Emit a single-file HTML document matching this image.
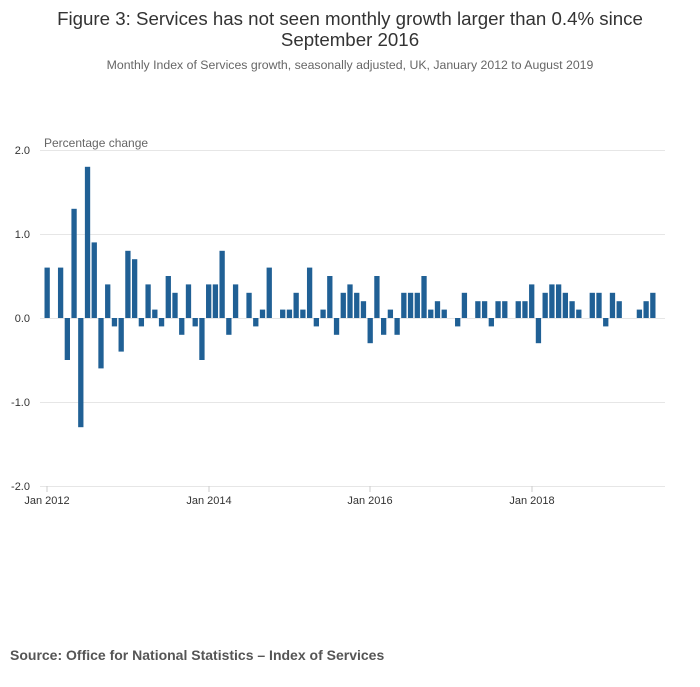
<!DOCTYPE html><html><head><meta charset="utf-8"><style>body{margin:0;background:#fff;font-family:"Liberation Sans",sans-serif}</style></head><body>
<svg width="700" height="682" xmlns="http://www.w3.org/2000/svg" font-family="Liberation Sans, sans-serif">
<text x="350" y="25" text-anchor="middle" font-size="18.7" fill="#333">Figure 3: Services has not seen monthly growth larger than 0.4% since</text>
<text x="350" y="46" text-anchor="middle" font-size="18.7" fill="#333">September 2016</text>
<text x="350" y="69" text-anchor="middle" font-size="12.3" fill="#666">Monthly Index of Services growth, seasonally adjusted, UK, January 2012 to August 2019</text>
<text x="44" y="147" font-size="12" fill="#666">Percentage change</text>
<g stroke="#e6e6e6" stroke-width="1">
<line x1="40" x2="665" y1="150.5" y2="150.5"/><line x1="40" x2="665" y1="234.5" y2="234.5"/><line x1="40" x2="665" y1="318.5" y2="318.5"/><line x1="40" x2="665" y1="402.5" y2="402.5"/><line x1="40" x2="665" y1="486.5" y2="486.5"/>
</g>
<g font-size="11" fill="#333" text-anchor="end">
<text x="30" y="154">2.0</text><text x="30" y="238">1.0</text><text x="30" y="322">0.0</text><text x="30" y="406">-1.0</text><text x="30" y="490">-2.0</text>
</g>
<g stroke="#ccc"><line x1="47" x2="47" y1="486" y2="492"/><line x1="209" x2="209" y1="486" y2="492"/><line x1="370" x2="370" y1="486" y2="492"/><line x1="532" x2="532" y1="486" y2="492"/></g>
<g font-size="11" fill="#333" text-anchor="middle">
<text x="47" y="504">Jan 2012</text><text x="209" y="504">Jan 2014</text><text x="370" y="504">Jan 2016</text><text x="532" y="504">Jan 2018</text>
</g>
<g fill="#206095">
<rect x="44.5" y="267.6" width="5.3" height="50.4"/>
<rect x="57.96" y="267.6" width="5.3" height="50.4"/>
<rect x="64.69" y="318" width="5.3" height="42"/>
<rect x="71.42" y="208.8" width="5.3" height="109.2"/>
<rect x="78.15" y="318" width="5.3" height="109.2"/>
<rect x="84.88" y="166.8" width="5.3" height="151.2"/>
<rect x="91.61" y="242.4" width="5.3" height="75.6"/>
<rect x="98.34" y="318" width="5.3" height="50.4"/>
<rect x="105.07" y="284.4" width="5.3" height="33.6"/>
<rect x="111.8" y="318" width="5.3" height="8.4"/>
<rect x="118.53" y="318" width="5.3" height="33.6"/>
<rect x="125.26" y="250.8" width="5.3" height="67.2"/>
<rect x="131.99" y="259.2" width="5.3" height="58.8"/>
<rect x="138.72" y="318" width="5.3" height="8.4"/>
<rect x="145.45" y="284.4" width="5.3" height="33.6"/>
<rect x="152.18" y="309.6" width="5.3" height="8.4"/>
<rect x="158.91" y="318" width="5.3" height="8.4"/>
<rect x="165.64" y="276" width="5.3" height="42"/>
<rect x="172.37" y="292.8" width="5.3" height="25.2"/>
<rect x="179.1" y="318" width="5.3" height="16.8"/>
<rect x="185.83" y="284.4" width="5.3" height="33.6"/>
<rect x="192.56" y="318" width="5.3" height="8.4"/>
<rect x="199.29" y="318" width="5.3" height="42"/>
<rect x="206.02" y="284.4" width="5.3" height="33.6"/>
<rect x="212.75" y="284.4" width="5.3" height="33.6"/>
<rect x="219.48" y="250.8" width="5.3" height="67.2"/>
<rect x="226.21" y="318" width="5.3" height="16.8"/>
<rect x="232.94" y="284.4" width="5.3" height="33.6"/>
<rect x="246.4" y="292.8" width="5.3" height="25.2"/>
<rect x="253.13" y="318" width="5.3" height="8.4"/>
<rect x="259.86" y="309.6" width="5.3" height="8.4"/>
<rect x="266.59" y="267.6" width="5.3" height="50.4"/>
<rect x="280.05" y="309.6" width="5.3" height="8.4"/>
<rect x="286.78" y="309.6" width="5.3" height="8.4"/>
<rect x="293.51" y="292.8" width="5.3" height="25.2"/>
<rect x="300.24" y="309.6" width="5.3" height="8.4"/>
<rect x="306.97" y="267.6" width="5.3" height="50.4"/>
<rect x="313.7" y="318" width="5.3" height="8.4"/>
<rect x="320.43" y="309.6" width="5.3" height="8.4"/>
<rect x="327.16" y="276" width="5.3" height="42"/>
<rect x="333.89" y="318" width="5.3" height="16.8"/>
<rect x="340.62" y="292.8" width="5.3" height="25.2"/>
<rect x="347.35" y="284.4" width="5.3" height="33.6"/>
<rect x="354.08" y="292.8" width="5.3" height="25.2"/>
<rect x="360.81" y="301.2" width="5.3" height="16.8"/>
<rect x="367.54" y="318" width="5.3" height="25.2"/>
<rect x="374.27" y="276" width="5.3" height="42"/>
<rect x="381" y="318" width="5.3" height="16.8"/>
<rect x="387.73" y="309.6" width="5.3" height="8.4"/>
<rect x="394.46" y="318" width="5.3" height="16.8"/>
<rect x="401.19" y="292.8" width="5.3" height="25.2"/>
<rect x="407.92" y="292.8" width="5.3" height="25.2"/>
<rect x="414.65" y="292.8" width="5.3" height="25.2"/>
<rect x="421.38" y="276" width="5.3" height="42"/>
<rect x="428.11" y="309.6" width="5.3" height="8.4"/>
<rect x="434.84" y="301.2" width="5.3" height="16.8"/>
<rect x="441.57" y="309.6" width="5.3" height="8.4"/>
<rect x="455.03" y="318" width="5.3" height="8.4"/>
<rect x="461.76" y="292.8" width="5.3" height="25.2"/>
<rect x="475.22" y="301.2" width="5.3" height="16.8"/>
<rect x="481.95" y="301.2" width="5.3" height="16.8"/>
<rect x="488.68" y="318" width="5.3" height="8.4"/>
<rect x="495.41" y="301.2" width="5.3" height="16.8"/>
<rect x="502.14" y="301.2" width="5.3" height="16.8"/>
<rect x="515.6" y="301.2" width="5.3" height="16.8"/>
<rect x="522.33" y="301.2" width="5.3" height="16.8"/>
<rect x="529.06" y="284.4" width="5.3" height="33.6"/>
<rect x="535.79" y="318" width="5.3" height="25.2"/>
<rect x="542.52" y="292.8" width="5.3" height="25.2"/>
<rect x="549.25" y="284.4" width="5.3" height="33.6"/>
<rect x="555.98" y="284.4" width="5.3" height="33.6"/>
<rect x="562.71" y="292.8" width="5.3" height="25.2"/>
<rect x="569.44" y="301.2" width="5.3" height="16.8"/>
<rect x="576.17" y="309.6" width="5.3" height="8.4"/>
<rect x="589.63" y="292.8" width="5.3" height="25.2"/>
<rect x="596.36" y="292.8" width="5.3" height="25.2"/>
<rect x="603.09" y="318" width="5.3" height="8.4"/>
<rect x="609.82" y="292.8" width="5.3" height="25.2"/>
<rect x="616.55" y="301.2" width="5.3" height="16.8"/>
<rect x="636.74" y="309.6" width="5.3" height="8.4"/>
<rect x="643.47" y="301.2" width="5.3" height="16.8"/>
<rect x="650.2" y="292.8" width="5.3" height="25.2"/>
</g>
<text x="10" y="660" font-size="14" font-weight="bold" fill="#555">Source: Office for National Statistics – Index of Services</text>
</svg></body></html>
